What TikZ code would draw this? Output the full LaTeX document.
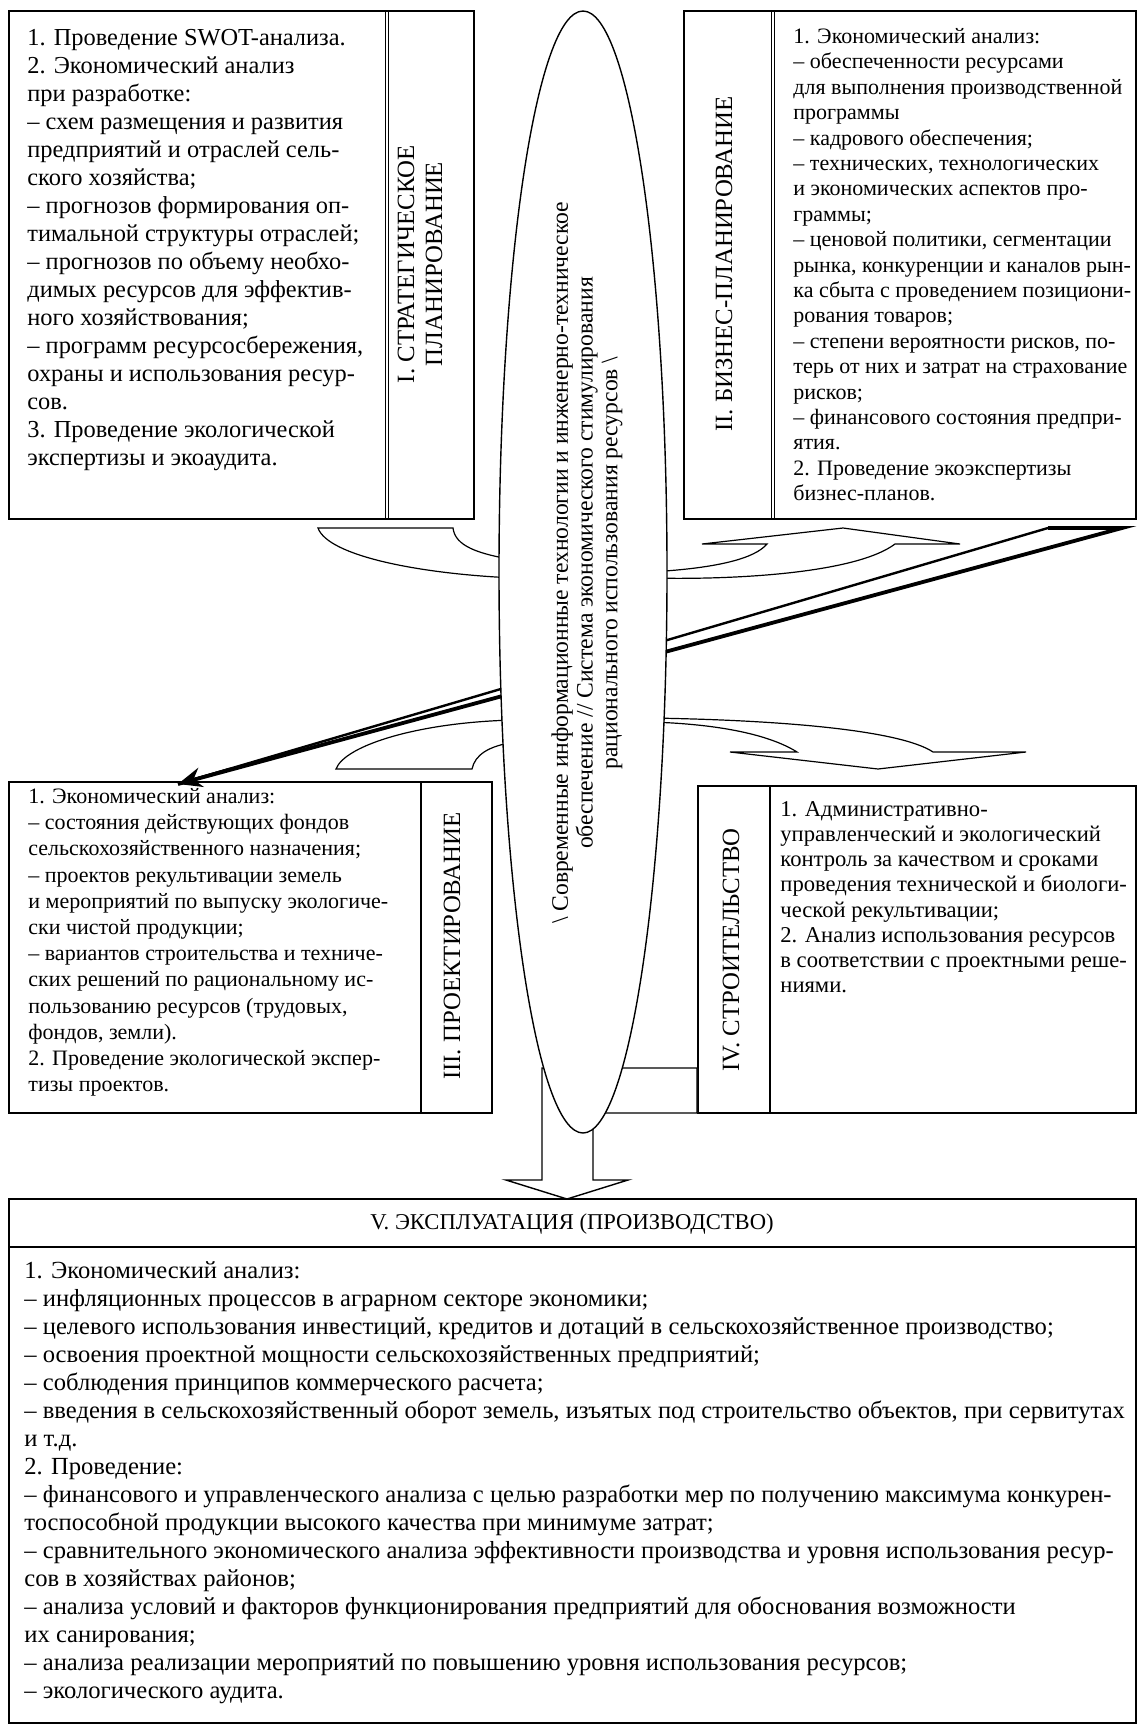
\documentclass[tikz,border=0pt]{standalone}
\usepackage{fontspec}
\setmainfont{Liberation Serif}
\usetikzlibrary{arrows.meta,calc}
\begin{document}
\begin{tikzpicture}[x=0.5pt,y=-0.5pt,
  box/.style={draw,line width=0.7pt},
  band/.style={draw,fill=white,line width=0.6pt},
  txt/.style={anchor=north west,inner sep=0pt,align=left},
  lab/.style={rotate=90,inner sep=0pt,align=center,font=\fontsize{12.4}{14}\selectfont}]
\useasboundingbox (0,0) rectangle (1144,1729);
\fill[white] (0,0) rectangle (1144,1729);

% Box I
\draw[box] (9,11) rectangle (474,519);
\draw[line width=0.5pt] (385,11) -- (385,519) (388,11) -- (388,519);
\node[txt,font=\fontsize{12.2}{14}\selectfont] (t1) at (27,29) {1. Проведение SWOT-анализа.\\
2. Экономический анализ\\
при разработке:\\
– схем размещения и развития\\
предприятий и отраслей сель-\\
ского хозяйства;\\
– прогнозов формирования оп-\\
тимальной структуры отраслей;\\
– прогнозов по объему необхо-\\
димых ресурсов для эффектив-\\
ного хозяйствования;\\
– программ ресурсосбережения,\\
охраны и использования ресур-\\
сов.\\
3. Проведение экологической\\
экспертизы и экоаудита.};
\node[lab] (l1) at (420,264) {I. СТРАТЕГИЧЕСКОЕ\\ПЛАНИРОВАНИЕ};

% Box II
\draw[box] (684,11) rectangle (1136,519);
\draw[line width=0.5pt] (771,11) -- (771,519) (774,11) -- (774,519);
\node[txt,font=\fontsize{11}{12.7}\selectfont] (t2) at (793,28) {1. Экономический анализ:\\
– обеспеченности ресурсами\\
для выполнения производственной\\
программы\\
– кадрового обеспечения;\\
– технических, технологических\\
и экономических аспектов про-\\
граммы;\\
– ценовой политики, сегментации\\
рынка, конкуренции и каналов рын-\\
ка сбыта с проведением позициони-\\
рования товаров;\\
– степени вероятности рисков, по-\\
терь от них и затрат на страхование\\
рисков;\\
– финансового состояния предпри-\\
ятия.\\
2. Проведение экоэкспертизы\\
бизнес-планов.};
\node[lab] (l2) at (724,264) {II. БИЗНЕС-ПЛАНИРОВАНИЕ};

% Box III
\draw[box] (9,782) rectangle (492,1113);
\draw[line width=0.6pt] (421,782) -- (421,1113);
\node[txt,font=\fontsize{11}{13.1}\selectfont] (t3) at (28,788) {1. Экономический анализ:\\
– состояния действующих фондов\\
сельскохозяйственного назначения;\\
– проектов рекультивации земель\\
и мероприятий по выпуску экологиче-\\
ски чистой продукции;\\
– вариантов строительства и техниче-\\
ских решений по рациональному ис-\\
пользованию ресурсов (трудовых,\\
фондов, земли).\\
2. Проведение экологической экспер-\\
тизы проектов.};
\node[lab] (l3) at (452,946) {III. ПРОЕКТИРОВАНИЕ};

% Box IV
\draw[box] (698,786) rectangle (1136,1113);
\draw[line width=0.6pt] (770,786) -- (770,1113);
\node[txt,font=\fontsize{11.3}{12.6}\selectfont] (t4) at (780,801) {1. Административно-\\
управленческий и экологический\\
контроль за качеством и сроками\\
проведения технической и биологи-\\
ческой рекультивации;\\
2. Анализ использования ресурсов\\
в соответствии с проектными реше-\\
ниями.};
\node[lab] (l4) at (731,950) {IV. СТРОИТЕЛЬСТВО};

% Box V
\draw[box] (9,1199) rectangle (1136,1723);
\draw[line width=0.6pt] (9,1247) -- (1136,1247);
\node[inner sep=0pt,font=\fontsize{11.3}{13}\selectfont] (l5) at (572,1224) {V. ЭКСПЛУАТАЦИЯ (ПРОИЗВОДСТВО)};
\node[txt,font=\fontsize{12.3}{14}\selectfont] (t5) at (24,1261) {1. Экономический анализ:\\
– инфляционных процессов в аграрном секторе экономики;\\
– целевого использования инвестиций, кредитов и дотаций в сельскохозяйственное производство;\\
– освоения проектной мощности сельскохозяйственных предприятий;\\
– соблюдения принципов коммерческого расчета;\\
– введения в сельскохозяйственный оборот земель, изъятых под строительство объектов, при сервитутах\\
и т.д.\\
2. Проведение:\\
– финансового и управленческого анализа с целью разработки мер по получению максимума конкурен-\\
тоспособной продукции высокого качества при минимуме затрат;\\
– сравнительного экономического анализа эффективности производства и уровня использования ресур-\\
сов в хозяйствах районов;\\
– анализа условий и факторов функционирования предприятий для обоснования возможности\\
их санирования;\\
– анализа реализации мероприятий по повышению уровня использования ресурсов;\\
– экологического аудита.};

% curved bands
\draw[band] (318,528) -- (453,528) .. controls (455,546) and (478,554) .. (515,560)
  -- (515,578) .. controls (420,574) and (328,556) .. (318,528) -- cycle;
\draw[band] (702,544) -- (843,528) -- (960,544) -- (895,544)
  .. controls (855,574) and (730,580) .. (650,578) -- (650,572)
  .. controls (720,568) and (755,558) .. (767,544) -- cycle;
\draw[band] (336,769) -- (472,769) .. controls (475,755) and (488,746) .. (515,742)
  -- (515,720) .. controls (420,722) and (345,745) .. (336,769) -- cycle;
\draw[band] (933,752) -- (1026,752) -- (878,769) -- (730,752) -- (797,752)
  .. controls (770,735) and (720,724) .. (650,722) -- (650,718)
  .. controls (780,720) and (900,730) .. (933,752) -- cycle;

% diagonal thick arrow
\coordinate (dA) at (1048,528);
\coordinate (dB) at (1122,528);
\coordinate (dT) at (178,784);
\fill[white] (dA) -- (dB) -- (dT) -- cycle;
\draw[line width=1.2pt] (dA) -- (dT);
\draw[line width=1.9pt,line join=miter] (dA) -- (dB) -- (dT);
\draw[line width=1.4pt,-{Stealth[length=12pt,width=10pt,inset=4pt]}] (230,769) -- (dT);

% down arrow with attached rectangle
\draw[band,line width=0.7pt] (542,1068) -- (697,1068) -- (697,1113) -- (593,1113) -- (593,1180)
  -- (628,1180) -- (567,1199) -- (506,1180) -- (542,1180) -- cycle;

% ellipse
\draw[line width=0.7pt,fill=white] (583,572) ellipse [x radius=42pt, y radius=280.5pt];
\node[rotate=90,inner sep=0pt,align=center,font=\fontsize{11.8}{12.4}\selectfont] (etxt) at (587,563)
  {\textbackslash{} Современные информационные технологии и инженерно-техническое\\
   обеспечение // Система экономического стимулирования\\
   рационального использования ресурсов \textbackslash};
\end{tikzpicture}
\end{document}
